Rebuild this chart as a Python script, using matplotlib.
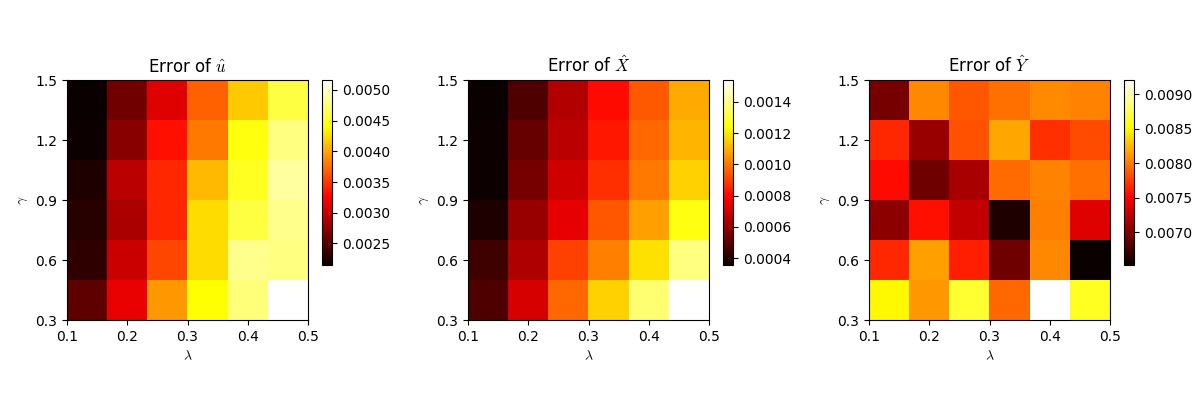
import numpy as np
import matplotlib
matplotlib.use('Agg')
import matplotlib.pyplot as plt

plt.rcParams['mathtext.fontset'] = 'cm'

# grid: lambda 0.1..0.5 (columns), gamma 0.3..1.5 (rows, bottom to top)
lam_range = [0.1, 0.5]
gam_range = [0.3, 1.5]
lam_ticks = [0.1, 0.2, 0.3, 0.4, 0.5]
gam_ticks = [0.3, 0.6, 0.9, 1.2, 1.5]

# rows listed from gamma=0.3 (bottom) up to gamma=1.5 (top)
err_u = [
    [0.00253, 0.00315, 0.00393, 0.00440, 0.00476, 0.00516],
    [0.00232, 0.00302, 0.00357, 0.00424, 0.00481, 0.00478],
    [0.00228, 0.00287, 0.00343, 0.00424, 0.00459, 0.00481],
    [0.00225, 0.00294, 0.00343, 0.00409, 0.00449, 0.00487],
    [0.00217, 0.00272, 0.00332, 0.00379, 0.00444, 0.00478],
    [0.00215, 0.00261, 0.00311, 0.00368, 0.00415, 0.00459],
]

err_x = [
    [0.000479, 0.000720, 0.000972, 0.001156, 0.001371, 0.001539],
    [0.000451, 0.000649, 0.000902, 0.001014, 0.001184, 0.001390],
    [0.000395, 0.000607, 0.000748, 0.000943, 0.001071, 0.001258],
    [0.000366, 0.000550, 0.000705, 0.000873, 0.001000, 0.001156],
    [0.000366, 0.000522, 0.000667, 0.000831, 0.000975, 0.001106],
    [0.000357, 0.000479, 0.000656, 0.000806, 0.000947, 0.001089],
]

err_y = [
    [0.008499, 0.008113, 0.008655, 0.007920, 0.009207, 0.008612],
    [0.007665, 0.008145, 0.007633, 0.006932, 0.008049, 0.006526],
    [0.007060, 0.007569, 0.007268, 0.006612, 0.008017, 0.007380],
    [0.007545, 0.006932, 0.007164, 0.007936, 0.008033, 0.007952],
    [0.007665, 0.007092, 0.007826, 0.008177, 0.007698, 0.007810],
    [0.006964, 0.008049, 0.007856, 0.007952, 0.008065, 0.008033],
]

titles = [r'Error of $\hat{u}$', r'Error of $\hat{X}$', r'Error of $\hat{Y}$']
cb_ticks = [
    [0.0025, 0.0030, 0.0035, 0.0040, 0.0045, 0.0050],
    [0.0004, 0.0006, 0.0008, 0.0010, 0.0012, 0.0014],
    [0.0070, 0.0075, 0.0080, 0.0085, 0.0090],
]

fig = plt.figure(figsize=(12, 4))
W, H = 1200.0, 400.0
extent = lam_range + gam_range

for i, (data, title, ticks) in enumerate(zip([err_u, err_x, err_y], titles, cb_ticks)):
    x0 = 67 + i * 401
    ax = fig.add_axes([x0 / W, 80 / H, 241 / W, 240 / H])
    cax = fig.add_axes([(x0 + 255) / W, 135 / H, 10 / W, 185 / H])
    im = ax.imshow(np.array(data), cmap='hot', origin='lower', extent=extent,
                   aspect='auto', interpolation='nearest')
    ax.set_title(title)
    ax.set_xlabel(r'$\lambda$')
    ax.set_ylabel(r'$\gamma$')
    ax.set_xticks(lam_ticks)
    ax.set_yticks(gam_ticks)
    cb = fig.colorbar(im, cax=cax)
    cb.set_ticks(ticks)

plt.savefig('out.png')
